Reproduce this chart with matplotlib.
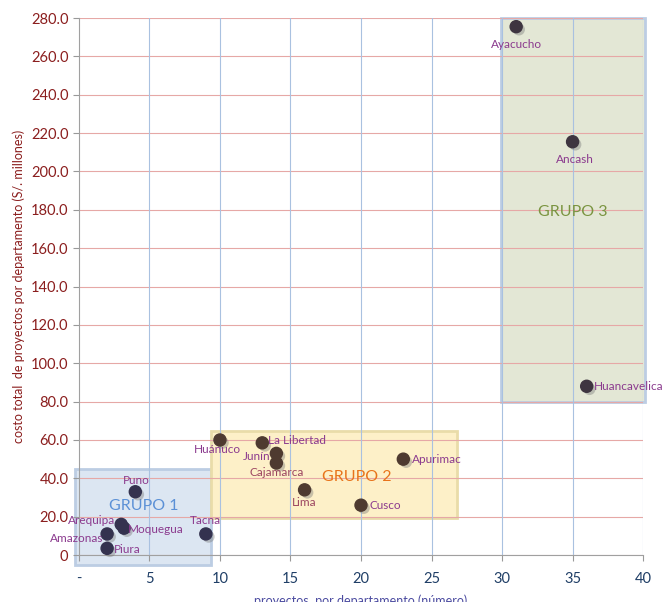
import matplotlib.pyplot as plt
import matplotlib.patheffects as pe
from matplotlib.patches import Rectangle

plt.rcParams['font.family'] = ['Lato', 'DejaVu Sans']

# Datos
departamentos = ["Ayacucho", "Ancash", "Huancavelica",
                 "Huánuco", "La Libertad", "Junín", "Cajamarca", "Lima", "Cusco", "Apurimac",
                 "Puno", "Arequipa", "Moquegua", "Amazonas", "Piura", "Tacna"]
proyectos = [31, 35, 36,
             10, 13, 14, 14, 16, 20, 23,
             4, 3, 3.2, 2, 2, 9]
costo = [275.5, 215.5, 88.0,
         60.0, 58.5, 53.0, 48.0, 34.0, 26.0, 50.0,
         33.0, 16.0, 14.0, 11.0, 3.5, 11.0]
grupo = [3, 3, 3,
         2, 2, 2, 2, 2, 2, 2,
         1, 1, 1, 1, 1, 1]

# Cajas de grupos: (x0, y0, x1, y1)
grupos_nombre = ["GRUPO 1", "GRUPO 2", "GRUPO 3"]
grupos_caja = [(-0.3, -5, 9.4, 45), (9.4, 19.3, 26.8, 64.5), (29.9, 80, 40.1, 280)]
grupos_texto = [(4.6, 25.5), (19.7, 40.7), (35.0, 179.0)]

x_ticks = [0, 5, 10, 15, 20, 25, 30, 35, 40]
x_tick_labels = ["-", "5", "10", "15", "20", "25", "30", "35", "40"]
y_ticks = list(range(0, 281, 20))
y_tick_labels = ["0"] + [f"{v:.1f}" for v in y_ticks[1:]]

# Estilos
caja_fill = ["#DCE6F2", "#FDF0C8", "#E3E7D5"]
caja_borde = ["#BCCDE3", "#E9DCA9", "#BCCDE3"]
texto_grupo = ["#5B90D6", "#E8731A", "#7A9440"]
color_punto = {1: "#34324F", 2: "#4E3A30", 3: "#3E3540"}
color_label = "#8B3A8E"
color_label2 = "#9B4460"

# Posicion de las etiquetas (offset en puntos, alineacion)
label_pos = {
    "Ayacucho": ((0, -9), "center", "top"),
    "Ancash": ((2, -9), "center", "top"),
    "Huancavelica": ((5, 0), "left", "center"),
    "Huánuco": ((-2, -7), "center", "center"),
    "La Libertad": ((4, 2), "left", "center"),
    "Junín": ((-4, -2), "right", "center"),
    "Cajamarca": ((0, -7), "center", "center"),
    "Lima": ((0, -9), "center", "center"),
    "Cusco": ((6, 0), "left", "center"),
    "Apurimac": ((6, 0), "left", "center"),
    "Puno": ((1, 8), "center", "center"),
    "Arequipa": ((-4, 3), "right", "center"),
    "Moquegua": ((3, -1), "left", "center"),
    "Amazonas": ((-3, -3), "right", "center"),
    "Piura": ((5, -1), "left", "center"),
    "Tacna": ((0, 10), "center", "center"),
}

fig = plt.figure(figsize=(6.63, 6.02), dpi=100)
ax = fig.add_axes([0.119, 0.078, 0.851, 0.892])

ax.set_xlim(0, 40)
ax.set_ylim(0, 280)

# Cajas de grupos
for i in range(3):
    x0, y0, x1, y1 = grupos_caja[i]
    rect = Rectangle((x0, y0), x1 - x0, y1 - y0, facecolor=caja_fill[i],
                     edgecolor=caja_borde[i], linewidth=2, zorder=1, clip_on=False)
    ax.add_patch(rect)
    ax.text(grupos_texto[i][0], grupos_texto[i][1], grupos_nombre[i],
            color=texto_grupo[i], fontsize=11.5, ha="center", va="center", zorder=2)

# Grillas
for yv in y_ticks:
    ax.axhline(yv, color="#E6A8A6", linewidth=0.8, zorder=1.5)
for xv in x_ticks[1:]:
    ax.axvline(xv, color="#A9C1E0", linewidth=0.8, zorder=1.5)

# Puntos
sombra = [pe.SimplePatchShadow(offset=(2, -2), shadow_rgbFace="#777777", alpha=0.4), pe.Normal()]
for d, xv, yv, g in zip(departamentos, proyectos, costo, grupo):
    ax.scatter(xv, yv, s=75, color=color_punto[g], zorder=5, path_effects=sombra,
               clip_on=False)
    off, ha, va = label_pos[d]
    c = color_label2 if d in ("Cajamarca", "Lima") else color_label
    ax.annotate(d, (xv, yv), textcoords="offset points", xytext=off,
                ha=ha, va=va, fontsize=8.5, color=c, zorder=6, annotation_clip=False)

# Ejes
ax.set_xticks(x_ticks)
ax.set_xticklabels(x_tick_labels, color="#1F3E66", fontsize=10.5)
ax.set_yticks(y_ticks)
ax.set_yticklabels(y_tick_labels, color="#8B1E1E", fontsize=10.5)
ax.tick_params(axis="both", color="#999999", length=4)
ax.tick_params(axis="x", pad=8)
for s in ["top", "right"]:
    ax.spines[s].set_visible(False)
ax.spines["left"].set_color("#A0A0A0")
ax.spines["bottom"].set_color("#A0A0A0")
ax.spines["left"].set_zorder(3)
ax.spines["bottom"].set_zorder(3)

ax.set_ylabel("costo total  de proyectos por departamento (S/. millones)",
              color="#8B1E1E", fontsize=9, labelpad=4)
ax.set_xlabel("proyectos  por departamento (número)", color="#4B4BA0", fontsize=9,
              labelpad=6)

fig.savefig("out.png", dpi=100)
